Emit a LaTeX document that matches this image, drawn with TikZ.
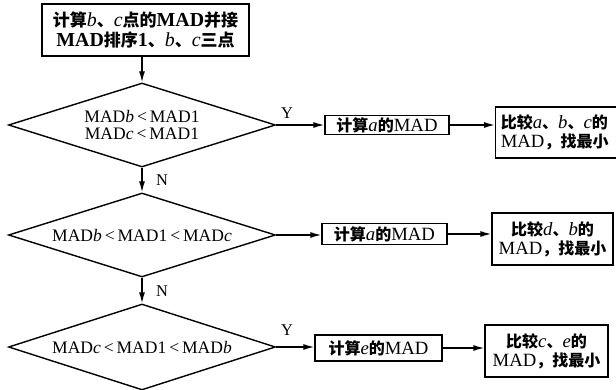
\documentclass[tikz,border=0pt]{standalone}
\usepackage{fontspec}
\setmainfont{Liberation Serif}[Scale=1.17]
\newfontfamily\cjk{Noto Sans CJK SC}
\usetikzlibrary{arrows.meta,shapes.geometric,calc}
\newcommand\zh[1]{{\cjk\bfseries #1}}
\begin{document}
\begin{tikzpicture}[x=1pt,y=-1pt,
  line width=1.4pt,
  every node/.style={font=\fontsize{15}{17}\selectfont},
  arr/.style={-{Latex[length=11pt,width=6pt]}},
  dec/.style={draw,diamond,inner sep=0pt,minimum width=267pt,minimum height=84pt,aspect=3.2,align=center},
  box/.style={draw,rectangle,inner sep=0pt,align=center},
  lab/.style={font=\fontsize{14}{16}\selectfont}]
\useasboundingbox (0,0) rectangle (616,390);
\node[box,minimum width=207pt,minimum height=52pt,font=\fontsize{17}{20}\selectfont] (top) at (145.5,30)
  {\zh{计算}\textit{b}\zh{、}\textit{c}\zh{点的}\textbf{MAD}\zh{并接}\\\textbf{MAD}\zh{排序}\textbf{1}\zh{、}\textit{b}\zh{、}\textit{c}\zh{三点}};
\node[dec] (d1) at (142,125) {MAD\textit{b}\,<\,MAD1\\MAD\textit{c}\,<\,MAD1};
\node[dec] (d2) at (142,235) {MAD\textit{b}\,<\,MAD1\,<\,MAD\textit{c}};
\node[dec,minimum height=86pt] (d3) at (142,347) {MAD\textit{c}\,<\,MAD1\,<\,MAD\textit{b}};
% row 1
\node[box,minimum width=124pt,minimum height=19pt,font=\fontsize{16}{18}\selectfont] (a1) at (387,125) {\zh{计算}\textit{a}\zh{的}MAD};
\node[box,minimum width=150pt,minimum height=51pt,font=\fontsize{16}{19}\selectfont,anchor=west,align=left,text width=146pt] (b1) at (495,132.5) {\,\zh{比较}\textit{a}\zh{、}\textit{b}\zh{、}\textit{c}\zh{的}\\\,MAD\zh{，找最小}};
% row 2
\node[box,minimum width=125pt,minimum height=21pt,font=\fontsize{16}{18}\selectfont] (a2) at (384.5,234) {\zh{计算}\textit{a}\zh{的}MAD};
\node[box,minimum width=121pt,minimum height=52pt,font=\fontsize{16}{19}\selectfont] (b2) at (552.5,239) {\zh{比较}\textit{d}\zh{、}\textit{b}\zh{的}\\MAD\zh{，找最小}};
% row 3
\node[box,minimum width=127pt,minimum height=26pt,font=\fontsize{16}{18}\selectfont] (a3) at (378.5,348) {\zh{计算}\textit{e}\zh{的}MAD};
\node[box,minimum width=123pt,minimum height=52pt,font=\fontsize{16}{19}\selectfont] (b3) at (546.5,351) {\zh{比较}\textit{c}\zh{、}\textit{e}\zh{的}\\MAD\zh{，找最小}};
% connectors
\draw[arr] (top.south -| d1.north) -- (d1.north);
\draw[arr] (d1.south) -- (d2.north);
\draw[arr] (d2.south) -- (d3.north);
\draw[arr] (d1.east) -- (d1.east -| a1.west);
\draw[arr] (d2.east) -- (d2.east -| a2.west);
\draw[arr] (d3.east) -- (d3.east -| a3.west);
\draw[arr] (a1.east) -- (a1.east -| b1.west);
\draw[arr] (a2.east) -- (a2.east -| b2.west);
\draw[arr] (a3.east) -- (a3.east -| b3.west);
% labels
\node[lab] (y1) at (287,113) {Y};
\node[lab] (y3) at (287,330) {Y};
\node[lab] (n1) at (162,180) {N};
\node[lab] (n2) at (162,291) {N};
\end{tikzpicture}
\end{document}
